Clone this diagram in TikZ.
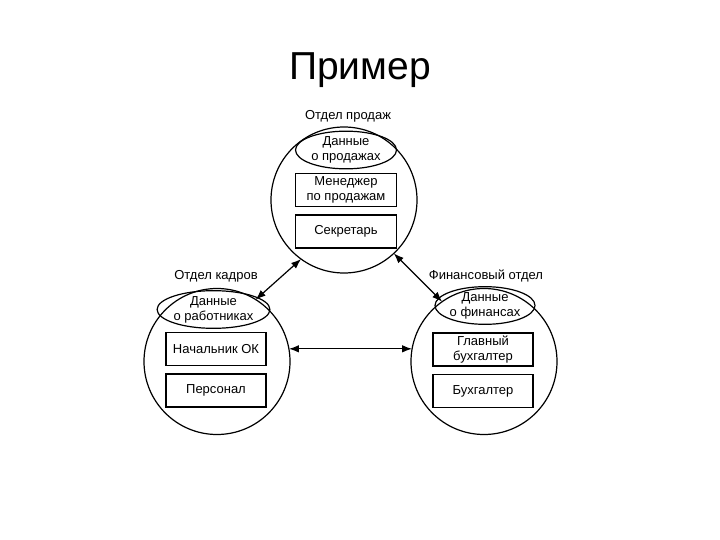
\documentclass[tikz,border=0pt]{standalone}
\usepackage{fontspec}
\setmainfont{Liberation Sans}
\usetikzlibrary{arrows.meta,shapes.geometric}

\begin{document}
\begin{tikzpicture}[x=1pt,y=-1pt,line width=1.2pt,>={Latex[length=10pt,width=7.5pt]},
  otdel/.style={draw,circle,minimum size=146pt,inner sep=0pt,outer sep=0pt},
  dannye/.style={draw,ellipse,minimum width=101pt,minimum height=32pt,inner sep=0pt,align=center,font=\fontsize{13}{15}\selectfont},
  dolzh/.style={draw,rectangle,minimum width=101pt,minimum height=33pt,inner sep=0pt,align=center,font=\fontsize{13}{15}\selectfont},
  podpis/.style={anchor=base,font=\fontsize{13}{15}\selectfont}]
  \useasboundingbox (0,0) rectangle (720,540);
  \node[anchor=base,font=\fontsize{39}{44}\selectfont] (title) at (360,80) {Пример};
  % отдел продаж
  \node[otdel] (prodazhi) at (344,200) {};
  \node[podpis] (lprodazhi) at (348,120) {Отдел продаж};
  \node[dannye] (dprodazhi) at (346,150) {Данные\\о продажах};
  \node[dolzh] (menedzher) at (346,190) {Менеджер\\по продажам};
  \node[dolzh] (sekretar) at (346,231.5) {Секретарь};
  % отдел кадров
  \node[otdel] (kadry) at (217,361.5) {};
  \node[podpis] (lkadry) at (216,279) {Отдел кадров};
  \node[dannye,minimum width=97pt,minimum height=35pt] (dkadry) at (213.5,309.5) {Данные\\о работниках};
  \node[dolzh,minimum width=100pt] (nachalnik) at (216,349) {Начальник ОК};
  \node[dolzh,minimum width=100pt] (personal) at (216,390.5) {Персонал};
  % финансовый отдел
  \node[otdel] (finansy) at (484,361.5) {};
  \node[podpis] (lfinansy) at (486,279) {Финансовый отдел};
  \node[dannye,minimum width=100pt,minimum height=35pt] (dfinansy) at (485,305.5) {Данные\\о финансах};
  \node[dolzh,minimum width=100pt] (glavbuh) at (483,349.5) {Главный\\бухгалтер};
  \node[dolzh,minimum width=100pt] (buh) at (483,391) {Бухгалтер};
  % связи
  \draw[<->] (prodazhi.234) -- (kadry.58);
  \draw[<->] (prodazhi.313) -- (finansy.125);
  \draw[<->] (kadry.10) -- (finansy.170);
\end{tikzpicture}
\end{document}
